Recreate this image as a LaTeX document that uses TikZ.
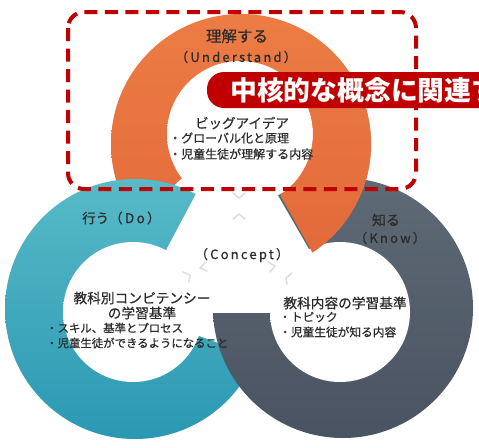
\documentclass[tikz,border=0pt]{standalone}
\usepackage{fontspec}
\newfontfamily\jp[FakeBold=0.5]{Noto Sans CJK JP}
\newfontfamily\jpls[LetterSpace=17,FakeBold=0.5]{Noto Sans CJK JP}
\newfontfamily\jpbold{Noto Sans CJK JP}
\definecolor{orng1}{HTML}{EC7C44}
\definecolor{orng2}{HTML}{E2683A}
\definecolor{teal1}{HTML}{57BAC7}
\definecolor{teal2}{HTML}{2B98B3}
\definecolor{gry1}{HTML}{5E6A76}
\definecolor{gry2}{HTML}{4A5361}
\definecolor{redc}{HTML}{C00000}
\definecolor{txt}{HTML}{2B2B2B}
\pgfdeclareradialshading{disk}{\pgfpoint{0bp}{0bp}}{color(0bp)=(white); color(39bp)=(white); color(46bp)=(black!9); color(50bp)=(black!24)}
\tikzset{
  ringlabel/.style={text=txt, inner sep=0pt},
  bodytext/.style={text=txt, inner sep=0pt},
  chev/.style={draw=black!13, line width=1.6pt, line cap=round, line join=round},
}
\begin{document}
\begin{tikzpicture}[x=1pt,y=-1pt]
\useasboundingbox (0,0) rectangle (479,447);
\clip (0,0) rectangle (479,447);
\fill[white] (0,0) rectangle (479,447);
% orange ring
\begin{scope}
  \clip (241,125) -- +(60.75:600) -- +(0:600) -- +(-60:600) -- +(-120:600) -- +(-180:600) -- +(-222:600) -- cycle;
  \shade[top color=orng1, bottom color=orng2] (241,144) circle[radius=130];
\end{scope}
\shade[shading=disk] (240,134) circle[radius=73];
% teal ring
\begin{scope}
  \clip (133,312) -- +(-62:600) -- +(-120:600) -- +(-180:600) -- +(-240:600) -- +(-300:600) -- +(-340:600) -- cycle;
  \shade[top color=teal1, bottom color=teal2] (135,309) circle[radius=130];
\end{scope}
\shade[shading=disk] (133,312) circle[radius=70];
% gray ring
\begin{scope}
  \clip (346,313) -- +(-180:600) -- +(-240:600) -- +(-300:600) -- +(-360:600) -- +(-420:600) -- +(-480:600) -- cycle;
  \shade[top color=gry1, bottom color=gry2] (343,308) circle[radius=130];
\end{scope}
\shade[shading=disk] (340,312) circle[radius=70];
% orange over gray
\begin{scope}
  \clip (241,125) -- +(60.75:600) -- +(0:600) -- +(-15:600) -- cycle;
  \shade[top color=orng1, bottom color=orng2, even odd rule] (241,144) circle[radius=130] (240,134) circle[radius=73];
\end{scope}
% faint chevrons
\draw[chev] (233,193) -- (239,198) -- (245,193);
\draw[chev] (233,219) -- (239,214) -- (245,219);
\draw[chev] (206,262) -- (200,268) -- (207,271);
\draw[chev] (183,272) -- (190,275) -- (189,282);
\draw[chev] (268,262) -- (275,266) -- (270,272);
\draw[chev] (292,273) -- (286,278) -- (287,284);
% ring labels
\node[ringlabel] (und1) at (237,36) {\jp\fontsize{15.5}{16}\selectfont 理解する};
\node[ringlabel] (und2) at (236,57) {\jpls\fontsize{13}{14}\selectfont （Understand）};
\node[ringlabel, anchor=west] (do) at (82,218) {\jp\fontsize{13.5}{14}\selectfont 行う\jpls（Do）};
\node[ringlabel] (concept) at (242,255) {\jpls\fontsize{13}{14}\selectfont （Concept）};
\node[ringlabel] (know1) at (386,220) {\jp\fontsize{14}{15}\selectfont 知る};
\node[ringlabel] (know2) at (390,238) {\jpls\fontsize{13}{14}\selectfont （Know）};
% orange inner text
\node[bodytext] (bi) at (242,123) {\jp\fontsize{13.5}{14}\selectfont ビッグアイデア};
\node[bodytext, anchor=west] (bi1) at (169,138) {\jp\fontsize{12}{13}\selectfont ・グローバル化と原理};
\node[bodytext, anchor=west] (bi2) at (169,154) {\jp\fontsize{12}{13}\selectfont ・児童生徒が理解する内容};
% teal inner text
\node[bodytext] (cp1) at (142,298) {\jp\fontsize{13.7}{14}\selectfont 教科別コンピテンシー};
\node[bodytext] (cp2) at (142,313) {\jp\fontsize{13.7}{14}\selectfont の学習基準};
\node[bodytext, anchor=west] (cp3) at (46,328) {\jp\fontsize{11.4}{12}\selectfont ・スキル、基準とプロセス};
\node[bodytext, anchor=west] (cp4) at (46,343) {\jp\fontsize{11.4}{12}\selectfont ・児童生徒ができるようになること};
% gray inner text
\node[bodytext] (ks1) at (345,303) {\jp\fontsize{13.7}{14}\selectfont 教科内容の学習基準};
\node[bodytext, anchor=west] (ks2) at (279,317) {\jp\fontsize{11.7}{12}\selectfont ・トピック};
\node[bodytext, anchor=west] (ks3) at (279,332) {\jp\fontsize{11.7}{12}\selectfont ・児童生徒が知る内容};
% dashed frame
\draw[redc, line width=4pt, dash pattern=on 13pt off 7.5pt, rounded corners=16pt] (68,12) rectangle (416,189);
% red label
\fill[redc, rounded corners=17pt] (207,72) rectangle (540,108);
\node[anchor=west, inner sep=0pt, text=white] (lbl) at (230,90) {\jpbold\bfseries\fontsize{26.8}{27}\selectfont 中核的な概念に関連す};
\end{tikzpicture}
\end{document}
